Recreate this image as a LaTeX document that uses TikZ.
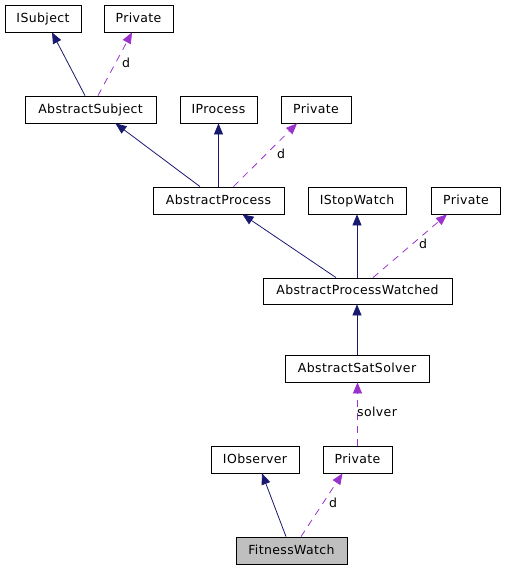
\documentclass[tikz,border=0pt]{standalone}
\usepackage{fontspec}
\setmainfont{DejaVu Sans}[LetterSpace=3]
\usetikzlibrary{arrows.meta,calc}
\definecolor{inhcol}{RGB}{25,25,112}
\definecolor{usecol}{RGB}{154,50,205}
\definecolor{fwfill}{RGB}{191,191,191}
\tikzset{
  cls/.style={draw=black, line width=0.8pt, minimum height=27pt, inner sep=0pt, text height=9.5pt, text depth=2pt, font=\fontsize{12.5}{14}\selectfont},
  inh/.style={draw=inhcol, line width=0.8pt, -{Triangle[length=11pt,width=9pt]}, color=inhcol},
  use/.style={draw=usecol, line width=0.8pt, dash pattern=on 7pt off 6pt, -{Triangle[length=11pt,width=9pt]}, color=usecol},
  lbl/.style={font=\fontsize{12.5}{14}\selectfont, text=black, inner sep=0pt}
}
\begin{document}
\begin{tikzpicture}[x=1pt,y=-1pt]
\useasboundingbox (0,0) rectangle (505,568);
\node[cls, minimum width=76pt] (isubj) at (43,18.5) {ISubject};
\node[cls, minimum width=69pt] (priv1) at (138.5,18.5) {Private};
\node[cls, minimum width=131pt] (asubj) at (90.5,109.5) {AbstractSubject};
\node[cls, minimum width=77pt] (iproc) at (218.5,109.5) {IProcess};
\node[cls, minimum width=70pt] (priv2) at (316,109.5) {Private};
\node[cls, minimum width=131pt] (aproc) at (218.5,200.5) {AbstractProcess};
\node[cls, minimum width=98pt] (istop) at (357,200.5) {IStopWatch};
\node[cls, minimum width=69pt] (priv3) at (466,200.5) {Private};
\node[cls, minimum width=189pt, minimum height=26pt] (apw) at (357.5,291) {AbstractProcessWatched};
\node[cls, minimum width=144pt] (ass) at (357,368.5) {AbstractSatSolver};
\node[cls, minimum width=88pt] (iobs) at (255,459.5) {IObserver};
\node[cls, minimum width=69pt] (priv4) at (357.5,459.5) {Private};
\node[cls, minimum width=111pt, fill=fwfill] (fw) at (291.5,550.5) {FitnessWatch};

\draw[inh] ([xshift=-5.5pt]asubj.north) -- ([xshift=9pt]isubj.south);
\draw[use] ([xshift=7.5pt]asubj.north) -- ([xshift=-6.5pt]priv1.south);
\node[lbl] (d1) at (126,63) {d};

\draw[inh] ([xshift=-18.5pt]aproc.north) -- ([xshift=25pt]asubj.south);
\draw[inh] (aproc.north) -- (iproc.south);
\draw[use] ([xshift=15pt]aproc.north) -- ([xshift=-19pt]priv2.south);
\node[lbl] (d2) at (281,154) {d};

\draw[inh] ([xshift=-21.5pt]apw.north) -- ([xshift=24pt]aproc.south);
\draw[inh] ([xshift=-0.5pt]apw.north) -- (istop.south);
\draw[use] ([xshift=15.5pt]apw.north) -- ([xshift=-19pt]priv3.south);
\node[lbl] (d3) at (423,244) {d};

\draw[inh] (ass.north) -- ([xshift=-0.5pt]apw.south);
\draw[use] (priv4.north) -- ([xshift=0.5pt]ass.south);
\node[lbl, anchor=west] (sv) at (357,412) {solver};

\draw[inh] ([xshift=-5.5pt]fw.north) -- ([xshift=7pt]iobs.south);
\draw[use] ([xshift=9.5pt]fw.north) -- ([xshift=-15pt]priv4.south);
\node[lbl] (d4) at (333,503) {d};
\end{tikzpicture}
\end{document}
